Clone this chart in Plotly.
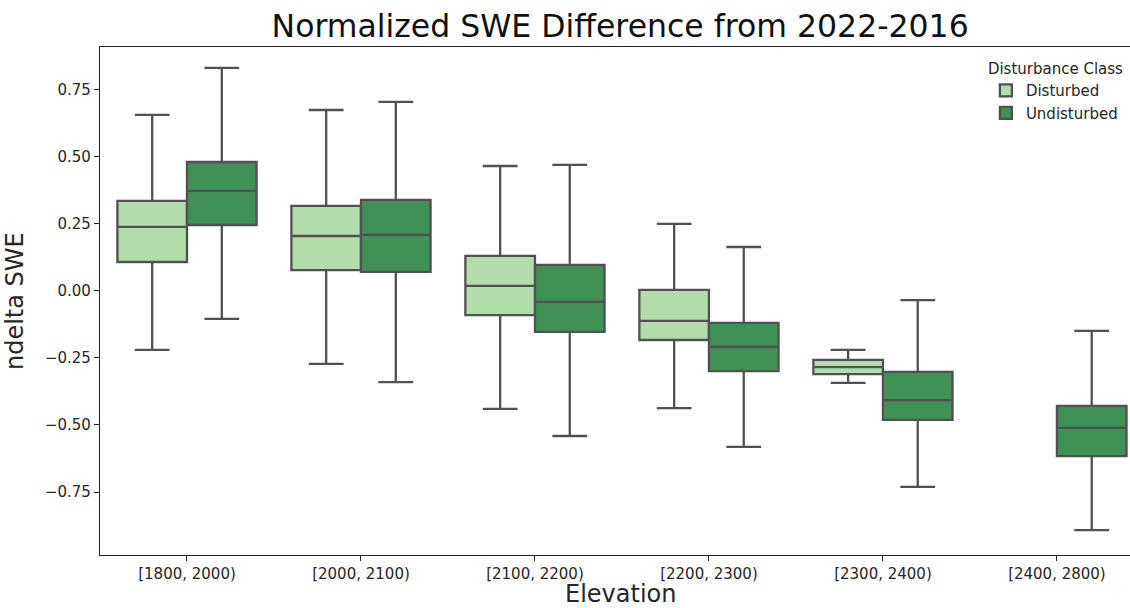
import plotly.graph_objects as go

# Elevation bands (category axis)
elevation_bins = ["[1800, 2000)", "[2000, 2100)", "[2100, 2200)",
                  "[2200, 2300)", "[2300, 2400)", "[2400, 2800)"]

# Box statistics of normalized SWE difference, Disturbed class (no data in the top band)
dist_bins = elevation_bins[:5]
dist_low = [-0.220, -0.272, -0.440, -0.437, -0.343]
dist_q1 = [0.108, 0.078, -0.090, -0.183, -0.310]
dist_med = [0.239, 0.205, 0.019, -0.112, -0.284]
dist_q3 = [0.336, 0.317, 0.131, 0.004, -0.257]
dist_high = [0.657, 0.675, 0.466, 0.250, -0.220]

# Box statistics, Undisturbed class
und_bins = elevation_bins
und_low = [-0.104, -0.340, -0.541, -0.582, -0.731, -0.892]
und_q1 = [0.246, 0.071, -0.153, -0.299, -0.481, -0.616]
und_med = [0.373, 0.209, -0.041, -0.209, -0.407, -0.511]
und_q3 = [0.481, 0.340, 0.097, -0.119, -0.302, -0.429]
und_high = [0.832, 0.705, 0.470, 0.164, -0.034, -0.149]

y_ticks = [-0.75, -0.50, -0.25, 0.00, 0.25, 0.50, 0.75]

LINE = "#515151"
TEXT = "#262626"
FONT = "DejaVu Sans"

fig = go.Figure()
fig.add_trace(go.Box(
    name="Disturbed", x=dist_bins,
    lowerfence=dist_low, q1=dist_q1, median=dist_med, q3=dist_q3, upperfence=dist_high,
    fillcolor="#b3dcab", line=dict(color=LINE, width=2.3),
    whiskerwidth=0.5, boxpoints=False, offsetgroup="d",
))
fig.add_trace(go.Box(
    name="Undisturbed", x=und_bins,
    lowerfence=und_low, q1=und_q1, median=und_med, q3=und_q3, upperfence=und_high,
    fillcolor="#3f9155", line=dict(color=LINE, width=2.3),
    whiskerwidth=0.5, boxpoints=False, offsetgroup="u",
))

fig.update_layout(
    width=1130, height=608,
    margin=dict(l=100, r=0, t=47, b=53),
    paper_bgcolor="white", plot_bgcolor="white",
    boxmode="group", boxgap=0.2, boxgroupgap=0.0,
    font=dict(family=FONT, color=TEXT, size=15),
    title=dict(text="Normalized SWE Difference from 2022-2016",
               font=dict(family=FONT, size=31.5, color="#111111"),
               x=0.505, xref="paper", xanchor="center",
               y=0.976, yanchor="top", yref="container"),
    legend=dict(
        title=dict(text="Disturbance Class", font=dict(size=15, family=FONT, color=TEXT)),
        font=dict(size=15, family=FONT, color=TEXT),
        x=0.996, xanchor="right", y=0.985, yanchor="top",
        bgcolor="rgba(255,255,255,0)", borderwidth=0,
    ),
    showlegend=True,
    annotations=[
        dict(text="Elevation", xref="paper", yref="paper",
             x=0.505, y=-0.077, xanchor="center", yanchor="middle", showarrow=False,
             borderpad=0, font=dict(size=24, family=FONT, color=TEXT)),
        dict(text="ndelta SWE", xref="paper", yref="paper",
             x=-0.098, y=0.5, xanchor="left", yanchor="middle", showarrow=False,
             textangle=-90, font=dict(size=24, family=FONT, color=TEXT)),
    ],
)

fig.update_xaxes(
    type="category", categoryorder="array", categoryarray=elevation_bins,
    range=[-0.5, 5.42],
    showline=True, linecolor=TEXT, linewidth=1.2, mirror=True,
    ticks="outside", ticklen=5, tickcolor=TEXT, tickwidth=1.2,
    tickfont=dict(size=15, family=FONT, color=TEXT),
    showgrid=False, zeroline=False,
)
fig.update_yaxes(
    range=[-0.985, 0.910],
    tickvals=y_ticks, tickformat=".2f",
    showline=True, linecolor=TEXT, linewidth=1.2, mirror=False,
    ticks="outside", ticklen=5, tickcolor=TEXT, tickwidth=1.2,
    tickfont=dict(size=15, family=FONT, color=TEXT),
    showgrid=False, zeroline=False,
)

fig.write_html("out.html")
